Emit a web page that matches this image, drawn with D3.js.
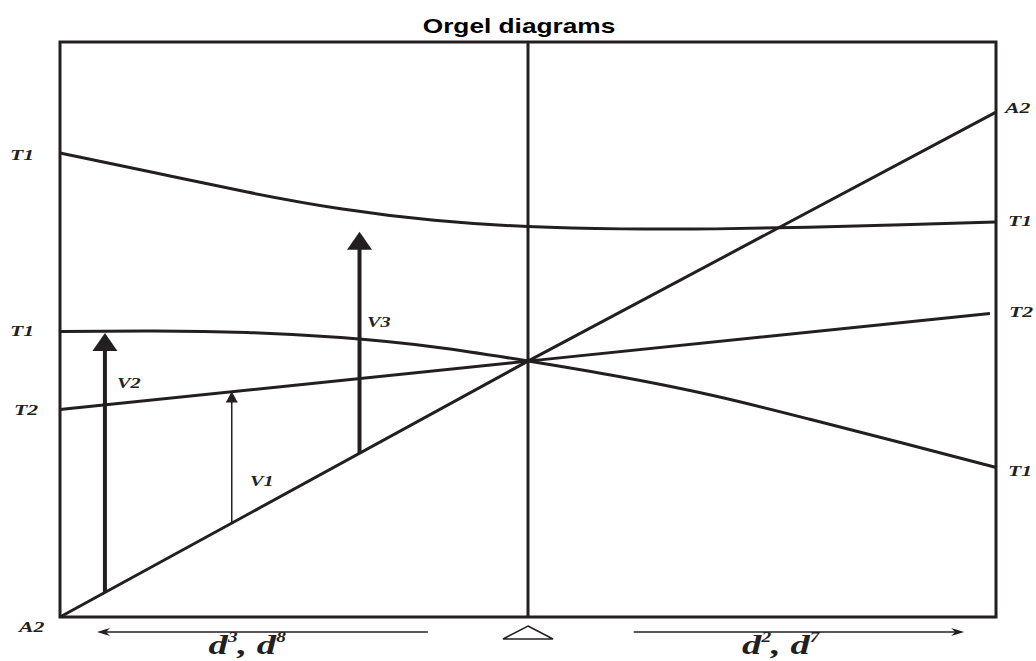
<!DOCTYPE html>
<html>
<head>
<meta charset="utf-8">
<script src="https://cdn.jsdelivr.net/npm/d3@7"></script>
<style>
  body { margin: 0; background: #fff; }
  svg { display: block; }
</style>
</head>
<body>
<script>
var width = 1036, height = 661;
var ink = "#231f20";

// ligand field strength (Dq), left = d3/d8, right = d2/d7
var dq = [-1, -0.8, -0.6, -0.4, -0.2, 0, 0.2, 0.4, 0.6, 0.8, 1];
// term energies (arbitrary units)
var t1Upper = [80.7, 77.3, 73.9, 71.0, 69.0, 67.9, 67.5, 67.5, 67.8, 68.2, 68.7];
var t1Lower = [49.65, 49.74, 49.48, 48.6, 46.96, 44.52, 41.74, 38.43, 34.43, 30.26, 26.0];
var t2Dq = [-1, 0, 0.987];
var t2E = [36.1, 44.5, 52.8];
var a2Dq = [-1, 0, 1];
var a2E = [0, 44.5, 87.8];

// transitions from the A2 ground term
var bandNames = ["V1", "V2", "V3"];
var bandDq = [-0.633, -0.904, -0.360];
var bandTop = [39.2, 49.4, 67.0];

var leftLabels = ["T1", "T1", "T2", "A2"];
var rightLabels = ["A2", "T1", "T2", "T1"];
var title = "Orgel diagrams";

var svg = d3.select("body").append("svg")
    .attr("width", width)
    .attr("height", height);

var x = d3.scaleLinear().domain([-1, 1]).range([60, 996]);
var y = d3.scaleLinear().domain([0, 100]).range([617, 42]);
var a2At = d3.scaleLinear().domain(a2Dq).range(a2E);

function stretched(sel, px, py, sx) {
    sel.attr("transform", "translate(" + px + "," + py + ") scale(" + sx + ",1)");
}

// title
svg.append("text")
    .attr("text-anchor", "middle")
    .style("font-family", "'Liberation Sans', Arial, sans-serif")
    .style("font-weight", "bold")
    .style("font-size", "21px")
    .attr("fill", "#000")
    .text(title)
    .call(stretched, 519, 33, 1.25);

// frame + centre line
svg.append("rect")
    .attr("x", x(-1)).attr("y", y(100))
    .attr("width", x(1) - x(-1)).attr("height", y(0) - y(100))
    .attr("fill", "none").attr("stroke", ink).attr("stroke-width", 3);
svg.append("line")
    .attr("x1", x(0)).attr("x2", x(0))
    .attr("y1", y(100)).attr("y2", y(0))
    .attr("stroke", ink).attr("stroke-width", 3);

var line = d3.line()
    .x(function (d) { return x(d[0]); })
    .y(function (d) { return y(d[1]); });

var curves = [
    { pts: d3.zip(dq, t1Upper), curve: d3.curveNatural },
    { pts: d3.zip(dq, t1Lower), curve: d3.curveNatural },
    { pts: d3.zip(t2Dq, t2E), curve: d3.curveLinear },
    { pts: d3.zip(a2Dq, a2E), curve: d3.curveLinear }
];

svg.selectAll("path.term")
    .data(curves)
    .enter()
    .append("path")
    .attr("class", "term")
    .attr("d", function (d) { return line.curve(d.curve)(d.pts); })
    .attr("fill", "none")
    .attr("stroke", ink)
    .attr("stroke-width", 3);

// transition arrows
var bands = bandNames.map(function (n, i) {
    return { name: n, dq: bandDq[i], top: bandTop[i], thin: n === "V1" };
});

var g = svg.selectAll("g.band").data(bands).enter().append("g").attr("class", "band");
g.append("line")
    .attr("x1", function (d) { return x(d.dq); })
    .attr("x2", function (d) { return x(d.dq); })
    .attr("y1", function (d) { return y(a2At(d.dq)); })
    .attr("y2", function (d) { return y(d.top) + (d.thin ? 8 : 14); })
    .attr("stroke", ink)
    .attr("stroke-width", function (d) { return d.thin ? 1.5 : 4; });
g.append("path")
    .attr("d", function (d) {
        var cx = x(d.dq), ty = y(d.top);
        var hw = d.thin ? 6 : 12.5, hh = d.thin ? 11 : 18;
        return "M" + cx + "," + ty + "L" + (cx + hw) + "," + (ty + hh) + "L" + (cx - hw) + "," + (ty + hh) + "Z";
    })
    .attr("fill", ink);

var labelFont = function (sel, size) {
    sel.style("font-family", "'Liberation Serif', 'Times New Roman', serif")
        .style("font-weight", "bold")
        .style("font-style", "italic")
        .style("font-size", size + "px")
        .attr("fill", ink);
};

var bandLabelPos = [[250, 486], [117, 388], [367, 327]];
bands.forEach(function (d, i) {
    svg.append("text").text(d.name)
        .call(labelFont, 14)
        .call(stretched, bandLabelPos[i][0], bandLabelPos[i][1], 1.45);
});

// term labels at both ends
var leftEnds = [t1Upper[0], t1Lower[0], t2E[0], a2E[0]];
var leftDy = [7, 4, 6, 15];
var leftX = [10, 10, 14, 19];
leftLabels.forEach(function (t, i) {
    svg.append("text").text(t)
        .call(labelFont, 15)
        .call(stretched, leftX[i], y(leftEnds[i]) + leftDy[i], 1.45);
});
var rightEnds = [a2E[2], t1Upper[10], t2E[2], t1Lower[10]];
var rightDy = [1, 4, 4, 8];
var rightX = [1005, 1008, 1009, 1008];
rightLabels.forEach(function (t, i) {
    svg.append("text").text(t)
        .call(labelFont, 15)
        .call(stretched, rightX[i], y(rightEnds[i]) + rightDy[i], 1.45);
});

// bottom direction arrows
var arrowY = 632;
function bottomArrow(from, to) {
    var x0 = x(from), x1 = x(to), dir = x1 > x0 ? 1 : -1;
    svg.append("line")
        .attr("x1", x0).attr("x2", x1 - dir * 8)
        .attr("y1", arrowY).attr("y2", arrowY)
        .attr("stroke", ink).attr("stroke-width", 1.5);
    svg.append("path")
        .attr("d", "M" + x1 + "," + arrowY + "L" + (x1 - dir * 13) + "," + (arrowY - 4) +
            "L" + (x1 - dir * 9) + "," + arrowY + "L" + (x1 - dir * 13) + "," + (arrowY + 4) + "Z")
        .attr("fill", ink);
}
bottomArrow(-0.214, -0.921);
bottomArrow(0.226, 0.932);

svg.append("path")
    .attr("d", "M" + x(0) + ",626L" + (x(0) + 25) + ",639L" + (x(0) - 25) + ",639Z")
    .attr("fill", "none").attr("stroke", ink).attr("stroke-width", 1.5);

// d-electron configurations
var configs = [["3", "8", -0.6], ["2", "7", 0.54]];
configs.forEach(function (c) {
    var t = svg.append("text").attr("text-anchor", "middle")
        .call(labelFont, 28)
        .call(stretched, x(c[2]), 654, 1.38);
    t.append("tspan").text("d");
    t.append("tspan").attr("dy", -12).style("font-size", "14px").text(c[0]);
    t.append("tspan").attr("dy", 12).text(", d");
    t.append("tspan").attr("dy", -12).style("font-size", "14px").text(c[1]);
});
</script>
</body>
</html>
